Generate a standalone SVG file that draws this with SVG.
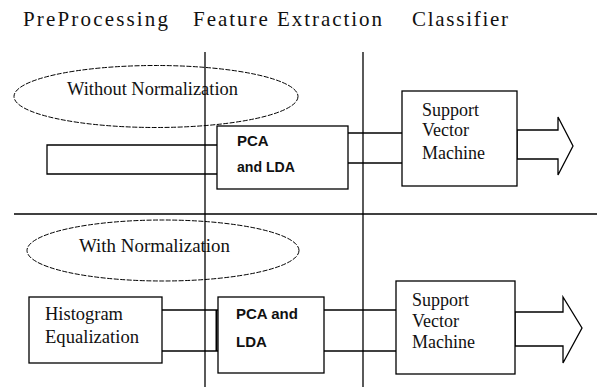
<svg xmlns="http://www.w3.org/2000/svg" width="597" height="387" viewBox="0 0 597 387">
<style>
.ln{stroke:#000;stroke-width:1.3;fill:none}
.box{stroke:#000;stroke-width:1.3;fill:#fff}
.ell{stroke:#000;stroke-width:1;fill:none;stroke-dasharray:5 1.5}
.ser{font-family:"Liberation Serif","Times New Roman",serif;font-size:18px;fill:#111}
.hdr{font-family:"Liberation Serif","Times New Roman",serif;font-size:21px;fill:#111}
.bld{font-family:"Liberation Sans",Arial,sans-serif;font-size:15px;font-weight:bold;fill:#111}
</style>
<rect width="597" height="387" fill="#fff"/>
<g id="headers">
<text class="hdr" x="23" y="26" textLength="145" lengthAdjust="spacing">PreProcessing</text>
<text class="hdr" x="193" y="26" textLength="189" lengthAdjust="spacing">Feature Extraction</text>
<text class="hdr" x="412" y="26" textLength="96" lengthAdjust="spacing">Classifier</text>
</g>
<g id="ellipse-without">
<ellipse class="ell" cx="156" cy="96.5" rx="142" ry="31"/>
<text class="ser" x="67" y="95" textLength="171" lengthAdjust="spacingAndGlyphs">Without Normalization</text>
</g>
<g id="ellipse-with">
<ellipse class="ell" cx="163" cy="250.5" rx="136" ry="30.5"/>
<text class="ser" x="79" y="252" textLength="151" lengthAdjust="spacingAndGlyphs">With Normalization</text>
</g>
<g id="dividers">
<line class="ln" x1="205" y1="52" x2="205" y2="387"/>
<line class="ln" x1="363" y1="52" x2="363" y2="387"/>
<line class="ln" x1="14" y1="214" x2="597" y2="214"/>
</g>
<g id="connectors">
<polyline class="ln" points="217,145 47,145 47,174 217,174"/>
<line class="ln" x1="348" y1="133" x2="402" y2="133"/>
<line class="ln" x1="348" y1="163" x2="402" y2="163"/>
<polygon class="box" points="517,130 558,130 558,117 573,146 558,175 558,159 517,159"/>
<line class="ln" x1="162" y1="310" x2="218" y2="310"/>
<line class="ln" x1="162" y1="351" x2="218" y2="351"/>
<line x1="216.5" y1="310" x2="216.5" y2="351" stroke="#000" stroke-width="2"/>
<line class="ln" x1="324" y1="310" x2="396" y2="310"/>
<line class="ln" x1="324" y1="351" x2="396" y2="351"/>
<polygon class="box" points="515,312 563,312 563,297 582,328 563,363 563,346 515,346"/>
</g>
<g id="pca1">
<rect class="box" x="217" y="126" width="131" height="63"/>
<text class="bld" x="237" y="146">PCA</text>
<text class="bld" x="237" y="172" textLength="58" lengthAdjust="spacingAndGlyphs">and LDA</text>
</g>
<g id="svm1">
<rect class="box" x="402" y="91" width="115" height="95"/>
<text class="ser" x="422" y="116">Support</text>
<text class="ser" x="422" y="136">Vector</text>
<text class="ser" x="422" y="159">Machine</text>
</g>
<g id="histogram">
<rect class="box" x="29" y="297" width="133" height="66"/>
<text class="ser" x="45" y="320" textLength="78" lengthAdjust="spacingAndGlyphs">Histogram</text>
<text class="ser" x="45" y="343" textLength="94" lengthAdjust="spacingAndGlyphs">Equalization</text>
</g>
<g id="pca2">
<rect class="box" x="218" y="297" width="106" height="76"/>
<text class="bld" x="236" y="319">PCA and</text>
<text class="bld" x="236" y="347">LDA</text>
</g>
<g id="svm2">
<rect class="box" x="396" y="281" width="119" height="93"/>
<text class="ser" x="412" y="306">Support</text>
<text class="ser" x="412" y="327">Vector</text>
<text class="ser" x="412" y="348">Machine</text>
</g>
</svg>
